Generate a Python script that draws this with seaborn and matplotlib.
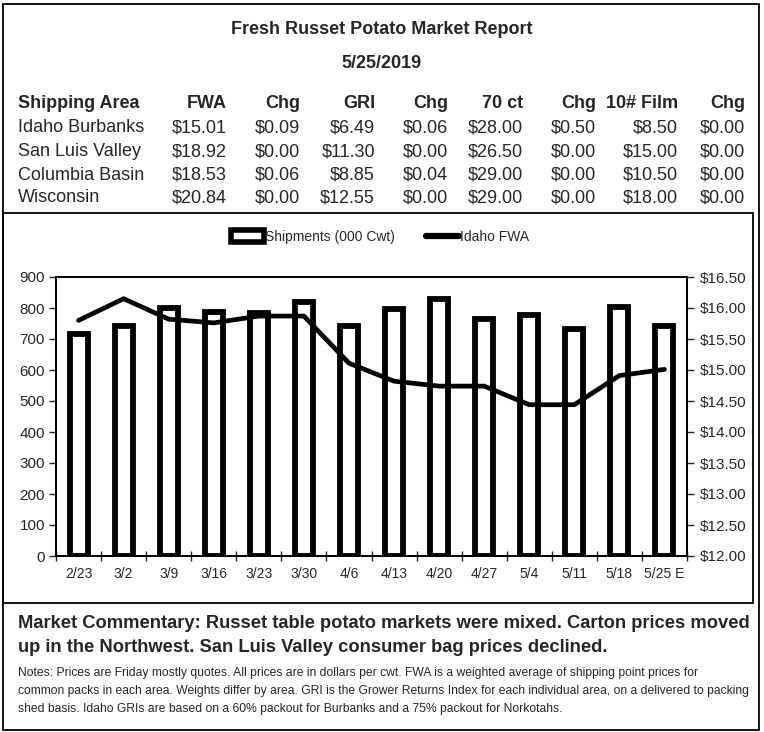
import matplotlib
matplotlib.use("Agg")
import matplotlib.pyplot as plt
import seaborn as sns
import numpy as np
from matplotlib.patches import Rectangle, Patch
from matplotlib.lines import Line2D
from matplotlib.ticker import FuncFormatter

# --- data ---
weeks = ["2/23", "3/2", "3/9", "3/16", "3/23", "3/30", "4/6",
         "4/13", "4/20", "4/27", "5/4", "5/11", "5/18", "5/25 E"]
shipments = [715, 742, 800, 788, 785, 818, 742, 796, 829, 763, 776, 731, 802, 741]
idaho_fwa = [15.80, 16.15, 15.82, 15.76, 15.87, 15.87, 15.11,
             14.82, 14.74, 14.74, 14.44, 14.44, 14.91, 15.01]

table_header = ["Shipping Area", "FWA", "Chg", "GRI", "Chg", "70 ct", "Chg", "10# Film", "Chg"]
areas = ["Idaho Burbanks", "San Luis Valley", "Columbia Basin", "Wisconsin"]
fwa = ["$15.01", "$18.92", "$18.53", "$20.84"]
fwa_chg = ["$0.09", "$0.00", "$0.06", "$0.00"]
gri = ["$6.49", "$11.30", "$8.85", "$12.55"]
gri_chg = ["$0.06", "$0.00", "$0.04", "$0.00"]
ct70 = ["$28.00", "$26.50", "$29.00", "$29.00"]
ct70_chg = ["$0.50", "$0.00", "$0.00", "$0.00"]
film10 = ["$8.50", "$15.00", "$10.50", "$18.00"]
film10_chg = ["$0.00", "$0.00", "$0.00", "$0.00"]

commentary = ["Market Commentary: Russet table potato markets were mixed. Carton prices moved",
              "up in the Northwest. San Luis Valley consumer bag prices declined."]
notes = ["Notes: Prices are Friday mostly quotes. All prices are in dollars per cwt. FWA is a weighted average of shipping point prices for",
         "common packs in each area. Weights differ by area. GRI is the Grower Returns Index for each individual area, on a delivered to packing",
         "shed basis. Idaho GRIs are based on a 60% packout for Burbanks and a 75% packout for Norkotahs."]

W, H = 764, 732
sns.set_style("ticks")
plt.rcParams["font.family"] = ["Liberation Sans", "DejaVu Sans"]

fig = plt.figure(figsize=(W / 100, H / 100), dpi=100)


def fx(x):
    return x / W


def fy(y):
    return 1 - y / H


# frames
fig.add_artist(Rectangle((fx(3), fy(730)), fx(756), 726 / H, transform=fig.transFigure,
                         fill=False, edgecolor="black", linewidth=1.3))
fig.add_artist(Rectangle((fx(3), fy(603)), fx(750), 390 / H, transform=fig.transFigure,
                         fill=False, edgecolor="black", linewidth=1.3))

# header text
fig.text(0.5, fy(29), "Fresh Russet Potato Market Report", ha="center", va="center",
         fontsize=13, fontweight="bold")
fig.text(0.5, fy(64), "5/25/2019", ha="center", va="center", fontsize=13, fontweight="bold")

# price table
right_edges = [227, 300, 375, 448, 523, 596, 678, 745]
row_y = [128, 152, 175, 198]
fig.text(fx(18), fy(104), table_header[0], ha="left", va="center", fontsize=13, fontweight="bold")
for xe, h in zip(right_edges, table_header[1:]):
    fig.text(fx(xe), fy(104), h, ha="right", va="center", fontsize=13, fontweight="bold")
columns = [fwa, fwa_chg, gri, gri_chg, ct70, ct70_chg, film10, film10_chg]
for i, area in enumerate(areas):
    fig.text(fx(18), fy(row_y[i]), area, ha="left", va="center", fontsize=13)
    for xe, col in zip(right_edges, columns):
        fig.text(fx(xe), fy(row_y[i]), col[i], ha="right", va="center", fontsize=13)

# chart
ax = fig.add_axes([fx(56), fy(556), (687 - 56) / W, (556 - 277) / H])
sns.barplot(x=weeks, y=shipments, ax=ax, color="white", edgecolor="black",
            linewidth=4.2, width=0.4, saturation=1)
ax.set_ylim(0, 900)
ax.set_xlim(-0.5, len(weeks) - 0.5)
ax.set_yticks(range(0, 1000, 100))
ax.set_xticks(np.arange(len(weeks) + 1) - 0.5)
ax.set_xticklabels([])
ax.set_xticks(range(len(weeks)), weeks, minor=True)
ax.tick_params(axis="x", which="major", direction="inout", length=7, width=1)
ax.tick_params(axis="x", which="minor", length=0, pad=8, labelsize=10)
ax.tick_params(axis="y", direction="out", length=5, width=1, labelsize=11, pad=3)
ax.set_xlabel("")
ax.set_ylabel("")

ax2 = ax.twinx()
sns.lineplot(x=np.arange(len(weeks)), y=idaho_fwa, ax=ax2, color="black", linewidth=3.4)
ax2.set_ylim(12, 16.5)
ax2.set_yticks(np.arange(12, 16.51, 0.5))
ax2.yaxis.set_major_formatter(FuncFormatter(lambda v, p: f"${v:.2f}"))
ax2.tick_params(axis="y", direction="out", length=5, width=1, labelsize=11, pad=4)
ax2.set_xlabel("")
ax2.set_ylabel("")
for a in (ax, ax2):
    for s in a.spines.values():
        s.set_visible(True)
        s.set_linewidth(1.3)
        s.set_color("black")

handles = [Patch(facecolor="white", edgecolor="black", linewidth=4),
           Line2D([0], [0], color="black", linewidth=4.5)]
fig.legend(handles, ["Shipments (000 Cwt)", "Idaho FWA"], loc="center",
           bbox_to_anchor=(fx(380), fy(237)), ncol=2, frameon=False, fontsize=10,
           handlelength=2.4, handleheight=0.9, handletextpad=0.1, columnspacing=2.2)

# commentary and notes
for y, line in zip([624, 647], commentary):
    fig.text(fx(18), fy(y), line, ha="left", va="center", fontsize=13.2, fontweight="bold")
for y, line in zip([673, 691, 709], notes):
    fig.text(fx(18), fy(y), line, ha="left", va="center", fontsize=8.75)

fig.savefig("out.png", dpi=100)
